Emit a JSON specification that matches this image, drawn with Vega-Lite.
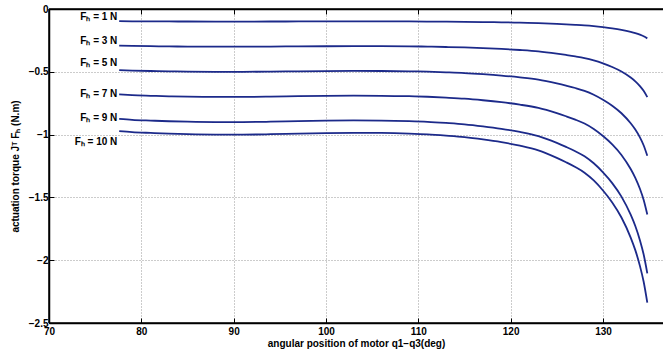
{
  "$schema": "https://vega.github.io/schema/vega-lite/v6.json",
  "width": 614,
  "height": 314,
  "autosize": {"type": "none"},
  "padding": {"left": 49, "top": 9, "right": 0, "bottom": 29},
  "background": "white",
  "config": {
    "view": {"stroke": null},
    "font": "Liberation Sans",
    "axis": {
      "labelFont": "Liberation Sans",
      "labelFontWeight": "bold",
      "labelFontSize": 10,
      "labelColor": "black",
      "titleFont": "Liberation Sans",
      "titleFontWeight": "bold",
      "titleFontSize": 10,
      "titleColor": "black",
      "domain": true,
      "domainColor": "black",
      "domainWidth": 1.5,
      "tickColor": "black",
      "tickWidth": 1,
      "gridColor": "#999999",
      "gridDash": [1, 2],
      "gridWidth": 1,
      "labelFlush": false,
      "labelOverlap": false
    }
  },
  "datasets": {
    "curves": [
      {"F": 1, "q": 77.6, "t": -0.0972}, {"F": 1, "q": 79, "t": -0.098}, {"F": 1, "q": 81, "t": -0.0987}, {"F": 1, "q": 83, "t": -0.0993}, {"F": 1, "q": 85, "t": -0.0997}, {"F": 1, "q": 88, "t": -0.1}, {"F": 1, "q": 91, "t": -0.1}, {"F": 1, "q": 94, "t": -0.0997}, {"F": 1, "q": 97, "t": -0.0992}, {"F": 1, "q": 100, "t": -0.0988}, {"F": 1, "q": 103, "t": -0.0986}, {"F": 1, "q": 106, "t": -0.0987}, {"F": 1, "q": 109, "t": -0.0992}, {"F": 1, "q": 111, "t": -0.0998}, {"F": 1, "q": 113, "t": -0.1008}, {"F": 1, "q": 115, "t": -0.102}, {"F": 1, "q": 117, "t": -0.1038}, {"F": 1, "q": 119, "t": -0.106}, {"F": 1, "q": 121, "t": -0.1088}, {"F": 1, "q": 123, "t": -0.1125}, {"F": 1, "q": 125, "t": -0.1185}, {"F": 1, "q": 126, "t": -0.122}, {"F": 1, "q": 127, "t": -0.1258}, {"F": 1, "q": 128, "t": -0.1303}, {"F": 1, "q": 129, "t": -0.1365}, {"F": 1, "q": 130, "t": -0.1445}, {"F": 1, "q": 131, "t": -0.154}, {"F": 1, "q": 132, "t": -0.166}, {"F": 1, "q": 133, "t": -0.182}, {"F": 1, "q": 133.5, "t": -0.192}, {"F": 1, "q": 134, "t": -0.2045}, {"F": 1, "q": 134.4, "t": -0.217}, {"F": 1, "q": 134.8, "t": -0.2338},
      {"F": 3, "q": 77.6, "t": -0.2916}, {"F": 3, "q": 79, "t": -0.294}, {"F": 3, "q": 81, "t": -0.2961}, {"F": 3, "q": 83, "t": -0.2979}, {"F": 3, "q": 85, "t": -0.2991}, {"F": 3, "q": 88, "t": -0.3}, {"F": 3, "q": 91, "t": -0.3}, {"F": 3, "q": 94, "t": -0.2991}, {"F": 3, "q": 97, "t": -0.2976}, {"F": 3, "q": 100, "t": -0.2964}, {"F": 3, "q": 103, "t": -0.2958}, {"F": 3, "q": 106, "t": -0.2961}, {"F": 3, "q": 109, "t": -0.2976}, {"F": 3, "q": 111, "t": -0.2994}, {"F": 3, "q": 113, "t": -0.3024}, {"F": 3, "q": 115, "t": -0.306}, {"F": 3, "q": 117, "t": -0.3114}, {"F": 3, "q": 119, "t": -0.318}, {"F": 3, "q": 121, "t": -0.3264}, {"F": 3, "q": 123, "t": -0.3375}, {"F": 3, "q": 125, "t": -0.3555}, {"F": 3, "q": 126, "t": -0.366}, {"F": 3, "q": 127, "t": -0.3774}, {"F": 3, "q": 128, "t": -0.3909}, {"F": 3, "q": 129, "t": -0.4095}, {"F": 3, "q": 130, "t": -0.4335}, {"F": 3, "q": 131, "t": -0.462}, {"F": 3, "q": 132, "t": -0.498}, {"F": 3, "q": 133, "t": -0.546}, {"F": 3, "q": 133.5, "t": -0.576}, {"F": 3, "q": 134, "t": -0.6135}, {"F": 3, "q": 134.4, "t": -0.651}, {"F": 3, "q": 134.8, "t": -0.7014},
      {"F": 5, "q": 77.6, "t": -0.486}, {"F": 5, "q": 79, "t": -0.49}, {"F": 5, "q": 81, "t": -0.4935}, {"F": 5, "q": 83, "t": -0.4965}, {"F": 5, "q": 85, "t": -0.4985}, {"F": 5, "q": 88, "t": -0.5}, {"F": 5, "q": 91, "t": -0.5}, {"F": 5, "q": 94, "t": -0.4985}, {"F": 5, "q": 97, "t": -0.496}, {"F": 5, "q": 100, "t": -0.494}, {"F": 5, "q": 103, "t": -0.493}, {"F": 5, "q": 106, "t": -0.4935}, {"F": 5, "q": 109, "t": -0.496}, {"F": 5, "q": 111, "t": -0.499}, {"F": 5, "q": 113, "t": -0.504}, {"F": 5, "q": 115, "t": -0.51}, {"F": 5, "q": 117, "t": -0.519}, {"F": 5, "q": 119, "t": -0.53}, {"F": 5, "q": 121, "t": -0.544}, {"F": 5, "q": 123, "t": -0.5625}, {"F": 5, "q": 125, "t": -0.5925}, {"F": 5, "q": 126, "t": -0.61}, {"F": 5, "q": 127, "t": -0.629}, {"F": 5, "q": 128, "t": -0.6515}, {"F": 5, "q": 129, "t": -0.6825}, {"F": 5, "q": 130, "t": -0.7225}, {"F": 5, "q": 131, "t": -0.77}, {"F": 5, "q": 132, "t": -0.83}, {"F": 5, "q": 133, "t": -0.91}, {"F": 5, "q": 133.5, "t": -0.96}, {"F": 5, "q": 134, "t": -1.0225}, {"F": 5, "q": 134.4, "t": -1.085}, {"F": 5, "q": 134.8, "t": -1.169},
      {"F": 7, "q": 77.6, "t": -0.6804}, {"F": 7, "q": 79, "t": -0.686}, {"F": 7, "q": 81, "t": -0.6909}, {"F": 7, "q": 83, "t": -0.6951}, {"F": 7, "q": 85, "t": -0.6979}, {"F": 7, "q": 88, "t": -0.7}, {"F": 7, "q": 91, "t": -0.7}, {"F": 7, "q": 94, "t": -0.6979}, {"F": 7, "q": 97, "t": -0.6944}, {"F": 7, "q": 100, "t": -0.6916}, {"F": 7, "q": 103, "t": -0.6902}, {"F": 7, "q": 106, "t": -0.6909}, {"F": 7, "q": 109, "t": -0.6944}, {"F": 7, "q": 111, "t": -0.6986}, {"F": 7, "q": 113, "t": -0.7056}, {"F": 7, "q": 115, "t": -0.714}, {"F": 7, "q": 117, "t": -0.7266}, {"F": 7, "q": 119, "t": -0.742}, {"F": 7, "q": 121, "t": -0.7616}, {"F": 7, "q": 123, "t": -0.7875}, {"F": 7, "q": 125, "t": -0.8295}, {"F": 7, "q": 126, "t": -0.854}, {"F": 7, "q": 127, "t": -0.8806}, {"F": 7, "q": 128, "t": -0.9121}, {"F": 7, "q": 129, "t": -0.9555}, {"F": 7, "q": 130, "t": -1.0115}, {"F": 7, "q": 131, "t": -1.078}, {"F": 7, "q": 132, "t": -1.162}, {"F": 7, "q": 133, "t": -1.274}, {"F": 7, "q": 133.5, "t": -1.344}, {"F": 7, "q": 134, "t": -1.4315}, {"F": 7, "q": 134.4, "t": -1.519}, {"F": 7, "q": 134.8, "t": -1.6366},
      {"F": 9, "q": 77.6, "t": -0.8748}, {"F": 9, "q": 79, "t": -0.882}, {"F": 9, "q": 81, "t": -0.8883}, {"F": 9, "q": 83, "t": -0.8937}, {"F": 9, "q": 85, "t": -0.8973}, {"F": 9, "q": 88, "t": -0.9}, {"F": 9, "q": 91, "t": -0.9}, {"F": 9, "q": 94, "t": -0.8973}, {"F": 9, "q": 97, "t": -0.8928}, {"F": 9, "q": 100, "t": -0.8892}, {"F": 9, "q": 103, "t": -0.8874}, {"F": 9, "q": 106, "t": -0.8883}, {"F": 9, "q": 109, "t": -0.8928}, {"F": 9, "q": 111, "t": -0.8982}, {"F": 9, "q": 113, "t": -0.9072}, {"F": 9, "q": 115, "t": -0.918}, {"F": 9, "q": 117, "t": -0.9342}, {"F": 9, "q": 119, "t": -0.954}, {"F": 9, "q": 121, "t": -0.9792}, {"F": 9, "q": 123, "t": -1.0125}, {"F": 9, "q": 125, "t": -1.0665}, {"F": 9, "q": 126, "t": -1.098}, {"F": 9, "q": 127, "t": -1.1322}, {"F": 9, "q": 128, "t": -1.1727}, {"F": 9, "q": 129, "t": -1.2285}, {"F": 9, "q": 130, "t": -1.3005}, {"F": 9, "q": 131, "t": -1.386}, {"F": 9, "q": 132, "t": -1.494}, {"F": 9, "q": 133, "t": -1.638}, {"F": 9, "q": 133.5, "t": -1.728}, {"F": 9, "q": 134, "t": -1.8405}, {"F": 9, "q": 134.4, "t": -1.953}, {"F": 9, "q": 134.8, "t": -2.1042},
      {"F": 10, "q": 77.6, "t": -0.972}, {"F": 10, "q": 79, "t": -0.98}, {"F": 10, "q": 81, "t": -0.987}, {"F": 10, "q": 83, "t": -0.993}, {"F": 10, "q": 85, "t": -0.997}, {"F": 10, "q": 88, "t": -1.0}, {"F": 10, "q": 91, "t": -1.0}, {"F": 10, "q": 94, "t": -0.997}, {"F": 10, "q": 97, "t": -0.992}, {"F": 10, "q": 100, "t": -0.988}, {"F": 10, "q": 103, "t": -0.986}, {"F": 10, "q": 106, "t": -0.987}, {"F": 10, "q": 109, "t": -0.992}, {"F": 10, "q": 111, "t": -0.998}, {"F": 10, "q": 113, "t": -1.008}, {"F": 10, "q": 115, "t": -1.02}, {"F": 10, "q": 117, "t": -1.038}, {"F": 10, "q": 119, "t": -1.06}, {"F": 10, "q": 121, "t": -1.088}, {"F": 10, "q": 123, "t": -1.125}, {"F": 10, "q": 125, "t": -1.185}, {"F": 10, "q": 126, "t": -1.22}, {"F": 10, "q": 127, "t": -1.258}, {"F": 10, "q": 128, "t": -1.303}, {"F": 10, "q": 129, "t": -1.365}, {"F": 10, "q": 130, "t": -1.445}, {"F": 10, "q": 131, "t": -1.54}, {"F": 10, "q": 132, "t": -1.66}, {"F": 10, "q": 133, "t": -1.82}, {"F": 10, "q": 133.5, "t": -1.92}, {"F": 10, "q": 134, "t": -2.045}, {"F": 10, "q": 134.4, "t": -2.17}, {"F": 10, "q": 134.8, "t": -2.338}
    ],
    "labels": [
      {"q": 77.4, "t": -0.063, "label": "Fₕ = 1 N"},
      {"q": 77.4, "t": -0.254, "label": "Fₕ = 3 N"},
      {"q": 77.4, "t": -0.429, "label": "Fₕ = 5 N"},
      {"q": 77.4, "t": -0.677, "label": "Fₕ = 7 N"},
      {"q": 77.4, "t": -0.865, "label": "Fₕ = 9 N"},
      {"q": 77.4, "t": -1.056, "label": "Fₕ = 10 N"}
    ],
    "frameH": [{"t": 0}, {"t": -2.5}],
    "frameV": [{"q": 70}]
  },
  "resolve": {"axis": {"x": "independent", "y": "independent"}},
  "layer": [
    {
      "data": {"name": "curves"},
      "mark": {"type": "line", "color": "#1c2a8a", "strokeWidth": 1.8, "interpolate": "monotone"},
      "encoding": {
        "x": {
          "field": "q", "type": "quantitative",
          "scale": {"domain": [70, 136.5], "nice": false, "zero": false},
          "axis": {"orient": "bottom", "values": [70, 80, 90, 100, 110, 120, 130], "format": "d", "grid": true, "tickSize": -5, "labelPadding": 8, "title": "angular position of motor q1−q3(deg)", "titlePadding": 2}
        },
        "y": {
          "field": "t", "type": "quantitative",
          "scale": {"domain": [-2.5, 0], "nice": false, "zero": false},
          "axis": {"orient": "left", "values": [0, -0.5, -1, -1.5, -2, -2.5], "format": "~g", "grid": true, "tickSize": -5, "labelPadding": 6, "title": "actuation torque Jᵀ Fₕ (N.m)", "titlePadding": 8}
        },
        "detail": {"field": "F", "type": "nominal"}
      }
    },
    {
      "data": {"name": "labels"},
      "mark": {"type": "text", "align": "right", "baseline": "middle", "fontWeight": "bold", "fontSize": 10, "font": "Liberation Sans", "color": "black"},
      "encoding": {
        "x": {"field": "q", "type": "quantitative", "axis": {"orient": "top", "values": [70, 80, 90, 100, 110, 120, 130], "labels": false, "grid": false, "tickSize": -5, "title": null}},
        "y": {"field": "t", "type": "quantitative", "axis": null},
        "text": {"field": "label"}
      }
    },
    {
      "data": {"name": "frameH"},
      "mark": {"type": "rule", "color": "black", "strokeWidth": 1.5},
      "encoding": {"y": {"field": "t", "type": "quantitative", "axis": null}}
    },
    {
      "data": {"name": "frameV"},
      "mark": {"type": "rule", "color": "black", "strokeWidth": 1.5},
      "encoding": {"x": {"field": "q", "type": "quantitative", "axis": null}}
    }
  ]
}
